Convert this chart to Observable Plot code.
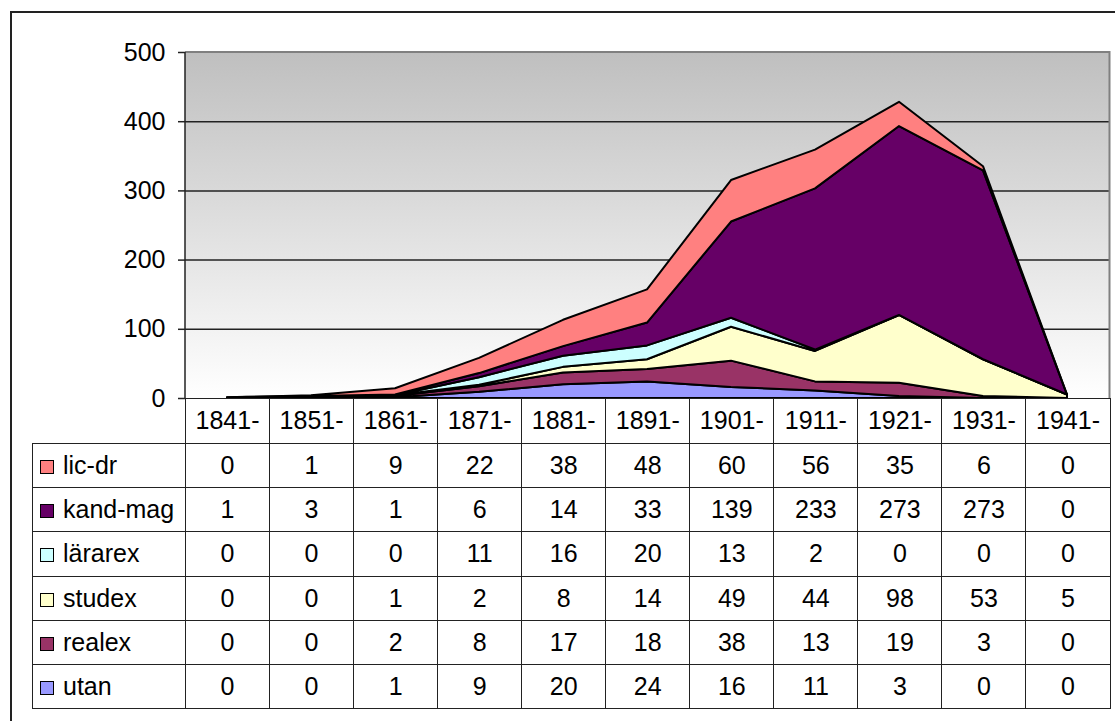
<!DOCTYPE html>
<html>
<head>
<meta charset="utf-8">
<script src="https://cdn.jsdelivr.net/npm/d3@7"></script>
<script src="https://cdn.jsdelivr.net/npm/@observablehq/plot@0.6"></script>
<style>
  html, body { margin: 0; padding: 0; background: #fff; }
  body { width: 1115px; height: 721px; position: relative; overflow: hidden;
         font-family: "Liberation Sans", Arial, sans-serif; }
  #frame { position: absolute; left: 10px; top: 11px; width: 1200px; height: 800px;
           border: 2px solid #222; box-sizing: border-box; }
  #chart { position: absolute; left: 0; top: 0; }
  #tbl { position: absolute; left: 32px; top: 397.5px; border-collapse: collapse;
         table-layout: fixed; font-size: 25px; color: #000; }
  #tbl td { border: 1.5px solid #222; padding: 0; text-align: center; vertical-align: middle;
            white-space: nowrap; overflow: hidden; }
  #tbl td.lab { text-align: left; padding-left: 7px; }
  #tbl td.blank { border: none; }
  .sw { display: inline-block; width: 12px; height: 12px; border: 1.5px solid #000;
        margin-right: 9px; }
</style>
</head>
<body>
<div id="frame"></div>
<div id="chart"></div>
<table id="tbl"></table>
<script>
// ---- data ----
const periods = ["1841-","1851-","1861-","1871-","1881-","1891-","1901-","1911-","1921-","1931-","1941-"];
const licDr   = [0, 1, 9, 22, 38, 48, 60, 56, 35, 6, 0];
const kandMag = [1, 3, 1, 6, 14, 33, 139, 233, 273, 273, 0];
const lararex = [0, 0, 0, 11, 16, 20, 13, 2, 0, 0, 0];
const studex  = [0, 0, 1, 2, 8, 14, 49, 44, 98, 53, 5];
const realex  = [0, 0, 2, 8, 17, 18, 38, 13, 19, 3, 0];
const utan    = [0, 0, 1, 9, 20, 24, 16, 11, 3, 0, 0];
const yTicks  = [0, 100, 200, 300, 400, 500];

// series from bottom of stack to top
const seriesNames  = ["utan", "realex", "studex", "lärarex", "kand-mag", "lic-dr"];
const seriesValues = [utan, realex, studex, lararex, kandMag, licDr];
const seriesColors = ["#9999FF", "#993366", "#FFFFCC", "#CCFFFF", "#660066", "#FF8080"];

const tidy = [];
seriesNames.forEach((s, si) => periods.forEach((p, pi) => tidy.push({series: s, period: p, value: seriesValues[si][pi]})));

const W = 1115, H = 399;
const mL = 185, mR = 5.5, mT = 52, mB = 1;

const background = (index, scales, values, dim) => {
  const g = d3.create("svg:g");
  const defs = g.append("defs");
  const lg = defs.append("linearGradient").attr("id", "bgGrad")
    .attr("x1", 0).attr("y1", 0).attr("x2", 0).attr("y2", 1);
  lg.append("stop").attr("offset", "0%").attr("stop-color", "#bfbfbf");
  lg.append("stop").attr("offset", "100%").attr("stop-color", "#ffffff");
  g.append("rect")
    .attr("x", dim.marginLeft).attr("y", dim.marginTop)
    .attr("width", dim.width - dim.marginLeft - dim.marginRight)
    .attr("height", dim.height - dim.marginTop - dim.marginBottom)
    .attr("fill", "url(#bgGrad)");
  return g.node();
};

const borders = (index, scales, values, dim) => {
  const g = d3.create("svg:g").attr("fill", "none");
  const x0 = dim.marginLeft, x1 = dim.width - dim.marginRight;
  const y0 = dim.marginTop, y1 = dim.height - dim.marginBottom;
  g.append("path").attr("d", `M${x0},${y0}H${x1}V${y1}`).attr("stroke", "#808080").attr("stroke-width", 2);
  g.append("path").attr("d", `M${x0},${y0}V${y1}`).attr("stroke", "#222").attr("stroke-width", 1.5);
  return g.node();
};

const chart = Plot.plot({
  width: W, height: H,
  marginLeft: mL, marginRight: mR, marginTop: mT, marginBottom: mB,
  style: {fontFamily: "'Liberation Sans', Arial, sans-serif", fontSize: "25px", color: "#000", background: "transparent", overflow: "visible"},
  x: {type: "point", domain: periods, padding: 0.5, axis: null},
  y: {domain: [0, 500], label: null, axis: null},
  color: {domain: seriesNames, range: seriesColors},
  marks: [
    background,
    Plot.gridY([100, 200, 300, 400], {stroke: "#222", strokeOpacity: 1, strokeWidth: 1.5}),
    Plot.areaY(tidy, {x: "period", y: "value", z: "series", fill: "series", order: seriesNames,
                      stroke: "#000", strokeWidth: 2, strokeLinejoin: "round"}),
    borders,
    Plot.axisY({ticks: yTicks, tickSize: 7, tickPadding: 13, tickFormat: d => String(d),
                fontSize: 25, stroke: "#222", strokeWidth: 1.5, label: null})
  ]
});
document.getElementById("chart").appendChild(chart);

// ---- data table ----
const tbl = d3.select("#tbl");
const colg = tbl.append("colgroup");
colg.append("col").style("width", "153px");
periods.forEach(() => colg.append("col").style("width", "84.05px"));
const head = tbl.append("tr").style("height", "45.5px");
head.append("td").attr("class", "blank");
periods.forEach(p => head.append("td").text(p));
for (let i = seriesNames.length - 1; i >= 0; i--) {
  const tr = tbl.append("tr").style("height", "44.2px");
  const lab = tr.append("td").attr("class", "lab");
  lab.append("span").attr("class", "sw").style("background", seriesColors[i]);
  lab.append("span").text(seriesNames[i]);
  seriesValues[i].forEach(v => tr.append("td").text(v));
}
</script>
</body>
</html>
